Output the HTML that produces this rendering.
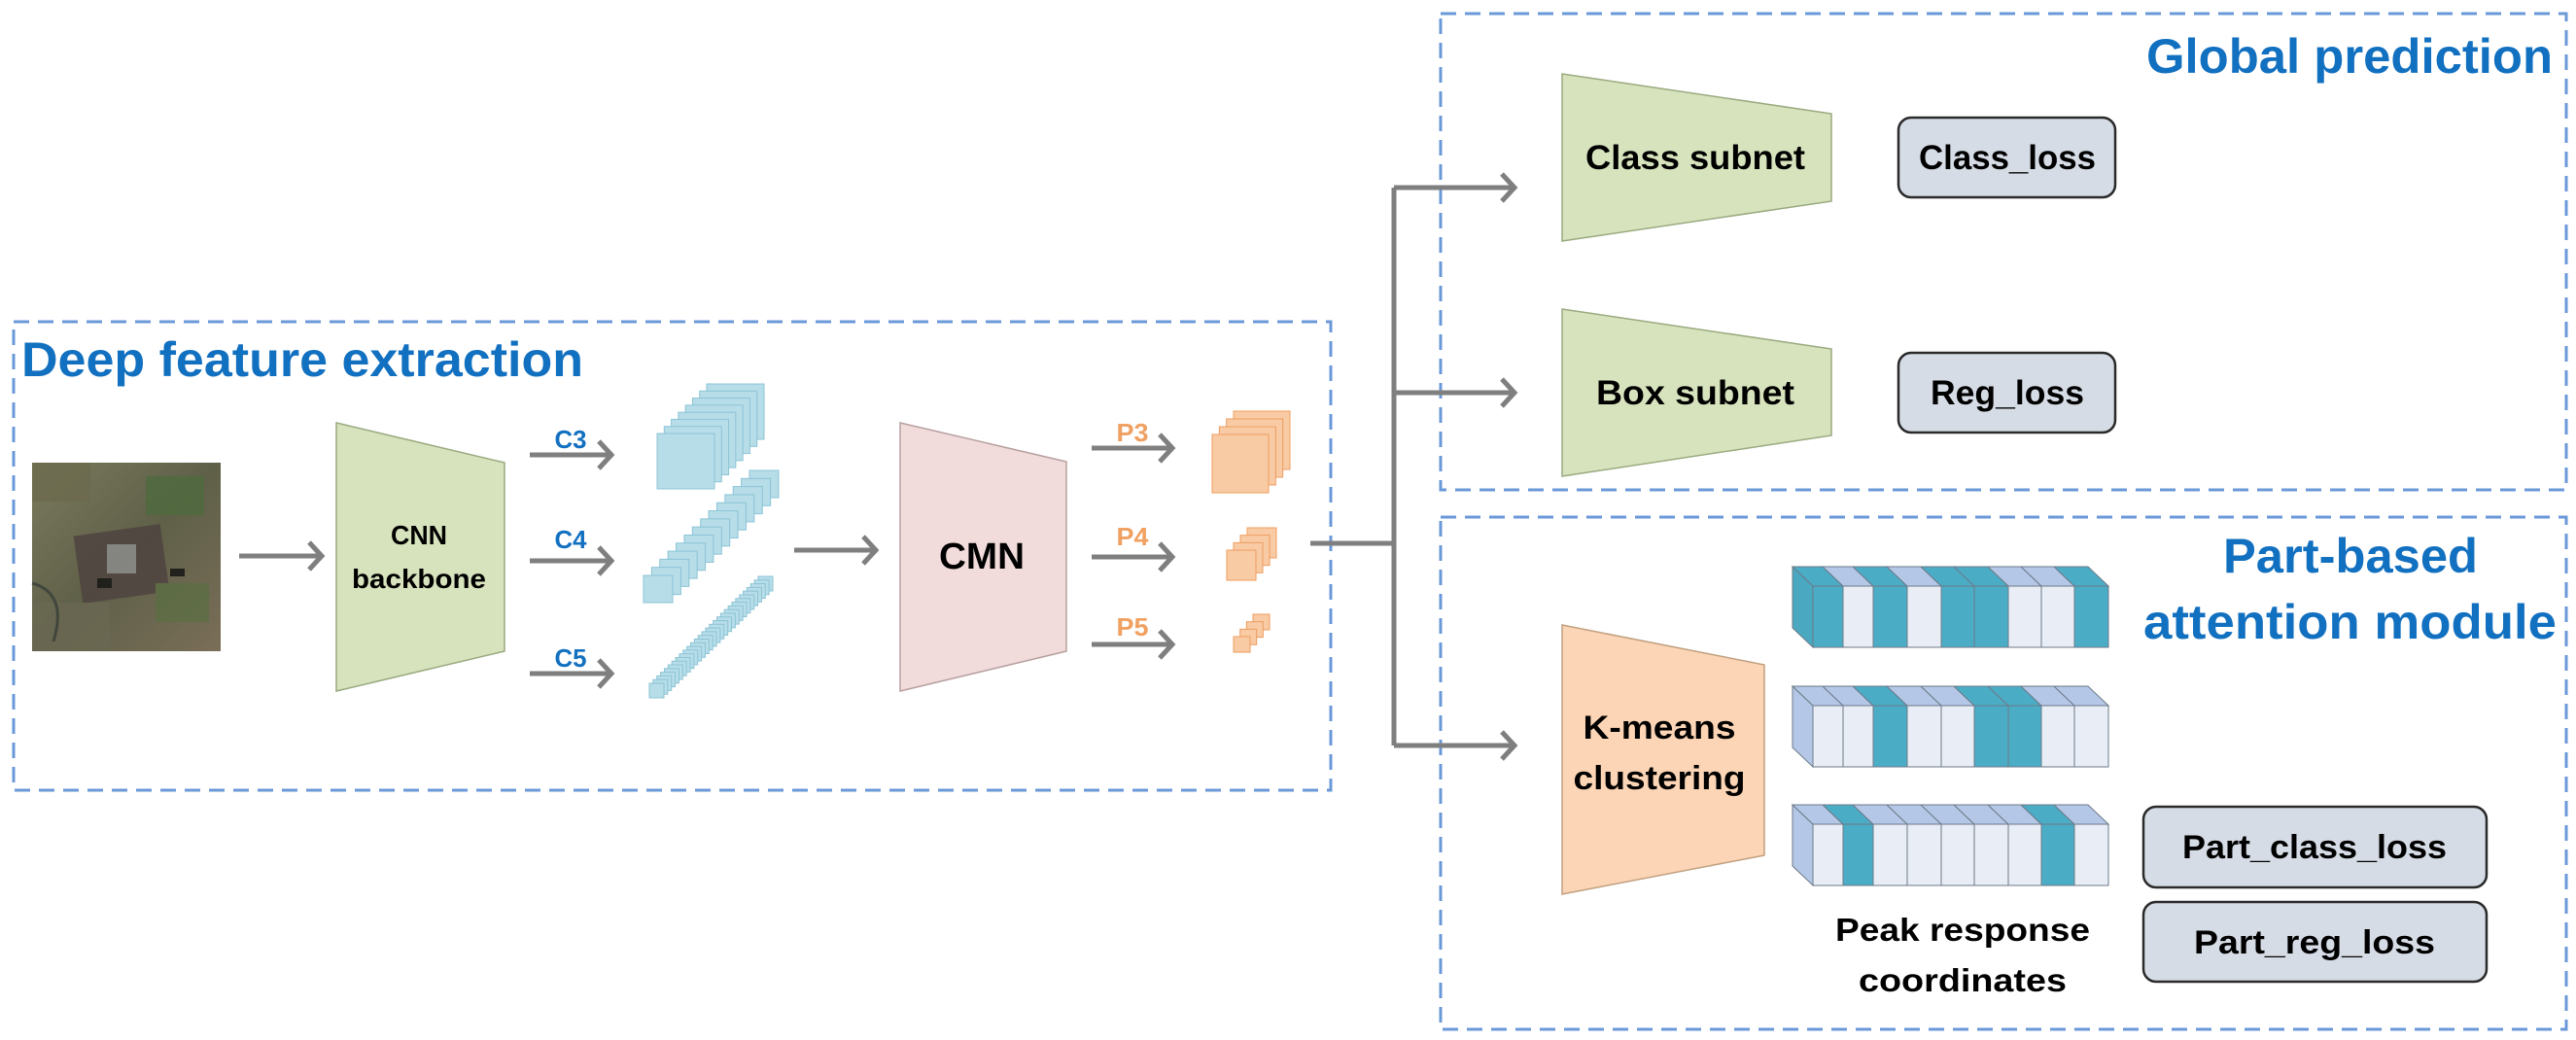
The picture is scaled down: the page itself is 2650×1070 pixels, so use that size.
<!DOCTYPE html>
<html><head><meta charset="utf-8"><style>
html,body{margin:0;padding:0;background:#fff;}
svg{display:block;}
text{font-family:"Liberation Sans",sans-serif;font-weight:bold;}
</style></head><body>
<svg id="s" width="2650" height="1070" viewBox="0 0 2650 1070" xmlns="http://www.w3.org/2000/svg">
<defs>
<linearGradient id="sat" x1="0" y1="0" x2="1" y2="1">
<stop offset="0" stop-color="#7a7a5e"/><stop offset="0.5" stop-color="#5f6048"/><stop offset="1" stop-color="#7a6e58"/>
</linearGradient>
</defs>
<!-- dashed boxes -->
<g fill="none" stroke="#6a98d8" stroke-width="3" stroke-dasharray="16,9">
<rect x="14" y="331" width="1355" height="482"/>
<rect x="1482" y="14" width="1158" height="490"/>
<rect x="1482" y="532" width="1158" height="527"/>
</g>
<text x="22" y="387" font-size="50" fill="#1270c0" textLength="578" lengthAdjust="spacingAndGlyphs">Deep feature extraction</text>
<text x="2208" y="75" font-size="50" fill="#1270c0" textLength="418" lengthAdjust="spacingAndGlyphs">Global prediction</text>
<text x="2418" y="589" font-size="50" fill="#1270c0" text-anchor="middle" textLength="262" lengthAdjust="spacingAndGlyphs">Part-based</text>
<text x="2205" y="657" font-size="50" fill="#1270c0" textLength="425" lengthAdjust="spacingAndGlyphs">attention module</text>

<!-- satellite -->
<rect x="33" y="476" width="194" height="194" fill="url(#sat)"/>
<g opacity="0.8">
<rect x="80" y="545" width="90" height="70" fill="#4e4240" transform="rotate(-8 125 580)"/>
<rect x="110" y="560" width="30" height="30" fill="#8e8e90"/>
<rect x="33" y="476" width="60" height="40" fill="#6d6a4e"/>
<rect x="150" y="490" width="60" height="40" fill="#4f6a3e"/>
<rect x="160" y="600" width="55" height="40" fill="#5c6e44"/>
<rect x="33" y="620" width="80" height="50" fill="#6a6852"/>
<rect x="100" y="595" width="15" height="10" fill="#111"/>
<rect x="175" y="585" width="15" height="8" fill="#111"/>
<path d="M33 600 Q70 610 55 660" stroke="#39403a" stroke-width="3" fill="none"/>
</g>

<!-- trapezoids -->
<polygon points="346,435 519,476 519,670 346,711" fill="#d7e3bd" stroke="#9aaa80" stroke-width="1.5"/>
<polygon points="926,435 1097,475 1097,670 926,711" fill="#f2dcdb" stroke="#b8a0a0" stroke-width="1.5"/>
<polygon points="1607,76 1884,117 1884,207 1607,248" fill="#d7e3bd" stroke="#9aaa80" stroke-width="1.5"/>
<polygon points="1607,318 1884,359 1884,448 1607,490" fill="#d7e3bd" stroke="#9aaa80" stroke-width="1.5"/>
<polygon points="1607,643 1815,684 1815,880 1607,920" fill="#fbd5b5" stroke="#c0a080" stroke-width="1.5"/>

<text x="431" y="560" font-size="28" text-anchor="middle" textLength="58" lengthAdjust="spacingAndGlyphs">CNN</text>
<text x="431" y="605" font-size="28" text-anchor="middle" textLength="138" lengthAdjust="spacingAndGlyphs">backbone</text>
<text x="1010" y="585" font-size="38" text-anchor="middle" textLength="88" lengthAdjust="spacingAndGlyphs">CMN</text>
<text x="1744" y="174" font-size="35" text-anchor="middle" textLength="226" lengthAdjust="spacingAndGlyphs">Class subnet</text>
<text x="1744" y="416" font-size="35" text-anchor="middle" textLength="204" lengthAdjust="spacingAndGlyphs">Box subnet</text>
<text x="1707" y="760" font-size="34" text-anchor="middle" textLength="157" lengthAdjust="spacingAndGlyphs">K-means</text>
<text x="1707" y="812" font-size="34" text-anchor="middle" textLength="177" lengthAdjust="spacingAndGlyphs">clustering</text>

<!-- loss boxes -->
<g fill="#d6dce5" stroke="#2a2a2a" stroke-width="2.5">
<rect x="1953" y="121" width="223" height="82" rx="13"/>
<rect x="1953" y="363" width="223" height="82" rx="13"/>
<rect x="2205" y="830" width="353" height="83" rx="13"/>
<rect x="2205" y="928" width="353" height="82" rx="13"/>
</g>
<text x="2065" y="174" font-size="35" text-anchor="middle" textLength="182" lengthAdjust="spacingAndGlyphs">Class_loss</text>
<text x="2065" y="416" font-size="35" text-anchor="middle" textLength="158" lengthAdjust="spacingAndGlyphs">Reg_loss</text>
<text x="2381" y="883" font-size="34" text-anchor="middle" textLength="272" lengthAdjust="spacingAndGlyphs">Part_class_loss</text>
<text x="2381" y="981" font-size="34" text-anchor="middle" textLength="248" lengthAdjust="spacingAndGlyphs">Part_reg_loss</text>
<text x="2019" y="968" font-size="33" text-anchor="middle" textLength="262" lengthAdjust="spacingAndGlyphs">Peak response</text>
<text x="2019" y="1020" font-size="33" text-anchor="middle" textLength="214" lengthAdjust="spacingAndGlyphs">coordinates</text>

<!-- labels -->
<g font-size="26">
<text x="587" y="461" fill="#1270c0" text-anchor="middle" textLength="33" lengthAdjust="spacingAndGlyphs">C3</text>
<text x="587" y="564" fill="#1270c0" text-anchor="middle" textLength="33" lengthAdjust="spacingAndGlyphs">C4</text>
<text x="587" y="686" fill="#1270c0" text-anchor="middle" textLength="33" lengthAdjust="spacingAndGlyphs">C5</text>
<text x="1165" y="454" fill="#f0a060" text-anchor="middle" textLength="33" lengthAdjust="spacingAndGlyphs">P3</text>
<text x="1165" y="561" fill="#f0a060" text-anchor="middle" textLength="33" lengthAdjust="spacingAndGlyphs">P4</text>
<text x="1165" y="654" fill="#f0a060" text-anchor="middle" textLength="33" lengthAdjust="spacingAndGlyphs">P5</text>
</g>

<!-- connectors -->
<g fill="none" stroke="#7f7f7f" stroke-width="5" stroke-linejoin="miter">
<path d="M246 572H330M318 558L331 572L318 586"/>
<path d="M545 468H628M616 454L629 468L616 482"/>
<path d="M545 577H628M616 563L629 577L616 591"/>
<path d="M545 693H628M616 679L629 693L616 707"/>
<path d="M817 566H900M888 552L901 566L888 580"/>
<path d="M1123 461H1205M1193 447L1206 461L1193 475"/>
<path d="M1123 573H1205M1193 559L1206 573L1193 587"/>
<path d="M1123 663H1205M1193 649L1206 663L1193 677"/>
<path d="M1348 559H1434M1434 193V767"/>
<path d="M1434 193H1557M1545 179L1558 193L1545 207"/>
<path d="M1434 404H1557M1545 390L1558 404L1545 418"/>
<path d="M1434 767H1557M1545 753L1558 767L1545 781"/>
</g>
<g id="dyn"></g>
</svg>
<script>
var g=document.getElementById('dyn'),NS='http://www.w3.org/2000/svg';
function el(t,a){var e=document.createElementNS(NS,t);for(var k in a)e.setAttribute(k,a[k]);g.appendChild(e);return e;}
function stack(fx,fy,w,h,dx,dy,n,fill,st){for(var i=n-1;i>=0;i--){el('rect',{x:fx+dx*i/(n-1),y:fy-dy*i/(n-1),width:w,height:h,fill:fill,stroke:st,'stroke-width':1});}}
stack(676,446,59,57,51,51,8,'#b7dde8','#8cc4d6');
stack(662,592,30,28,109,108,14,'#b7dde8','#8cc4d6');
stack(668,703,15,15,112,110,30,'#b7dde8','#8cc4d6');
stack(1247,447,58,60,22,24,4,'#f8cba5','#ef9d5e');
stack(1262,566,30,31,21,23,4,'#f8cba5','#ef9d5e');
stack(1269,655,17,16,20,23,4,'#f8cba5','#ef9d5e');
var b=[0,31,62,97,132,166,201,235,269,304];
function bar(F,pat){var x0=1865,H=63,DX=21,DY=20;
 var T='#4bacc6',L='#e9edf5',LT='#b4c7e7',S='#6d7a88';
 el('polygon',{points:[x0,F,x0-DX,F-DY,x0-DX,F-DY+H,x0,F+H].join(','),fill:pat[0]?'#4aa8c0':LT,stroke:S,'stroke-width':1});
 for(var i=0;i<9;i++){var a=x0+b[i],c=x0+b[i+1];
  el('polygon',{points:[a,F,c,F,c-DX,F-DY,a-DX,F-DY].join(','),fill:pat[i]?T:LT,stroke:S,'stroke-width':1});
  el('rect',{x:a,y:F,width:c-a,height:H,fill:pat[i]?T:L,stroke:S,'stroke-width':1});}
}
bar(603,[1,0,1,0,1,1,0,0,1]);
bar(726,[0,0,1,0,0,1,1,0,0]);
bar(848,[0,1,0,0,0,0,0,1,0]);
</script>
</body></html>
